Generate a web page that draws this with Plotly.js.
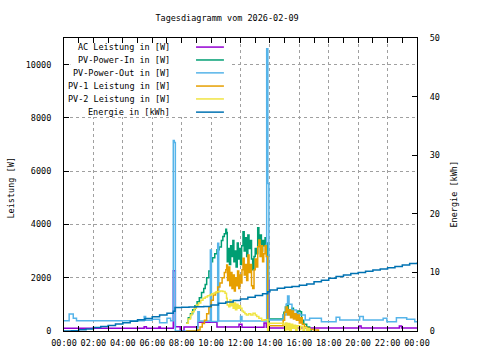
<!DOCTYPE html>
<html>
<head>
<meta charset="utf-8">
<script src="https://cdn.plot.ly/plotly-3.0.1.min.js"></script>
<style>html,body{margin:0;padding:0;background:#fff;}#chart{width:480px;height:360px;}</style>
</head>
<body>
<div id="chart"></div>
<script>
// ---- data (hours of day, values) ----
const titleText = "Tagesdiagramm vom 2026-02-09";
const seriesNames = ["AC Leistung in [W]", "PV-Power-In in [W]", "PV-Power-Out in [W]", "PV-1 Leistung in [W]", "PV-2 Leistung in [W]", "Energie in [kWh]"];
const seriesColors = ["#9400d3", "#009e73", "#56b4e9", "#e69f00", "#f0e442", "#0072b2"];
const xTickVals = [0, 2, 4, 6, 8, 10, 12, 14, 16, 18, 20, 22, 24];
const xTickText = ["00:00", "02:00", "04:00", "06:00", "08:00", "10:00", "12:00", "14:00", "16:00", "18:00", "20:00", "22:00", "00:00"];
const yTickVals = [0, 2000, 4000, 6000, 8000, 10000];
const yTickText = ["0", "2000", "4000", "6000", "8000", "10000"];
const y2TickVals = [0, 10, 20, 30, 40, 50];

const acT = [0, 5.45, 5.6, 6.45, 6.55, 7.43, 7.57, 7.9, 8.16, 9.1, 10.4, 11.9, 12.1, 13.6, 13.75, 13.85, 13.95, 15.1, 15.3, 20.05, 20.2, 22.8, 22.95, 24];
const acW = [100, 160, 100, 150, 100, 2260, 160, 0, 150, 330, 150, 250, 140, 300, 140, 1900, 110, 180, 110, 190, 110, 190, 110, 110];

const inT = [8.3, 8.45, 8.6, 8.75, 8.9, 9.05, 9.2, 9.35, 9.5, 9.6, 9.7, 9.85, 10.0, 10.1, 10.25, 10.4, 10.55, 10.7, 10.8, 10.9, 11.0, 11.05, 11.1, 11.17, 11.25, 11.33, 11.4, 11.48, 11.55, 11.62, 11.7, 11.78, 11.85, 11.93, 12.0, 12.08, 12.17, 12.25, 12.33, 12.42, 12.5, 12.58, 12.67, 12.75, 12.83, 12.92, 13.0, 13.08, 13.17, 13.25, 13.33, 13.42, 13.5, 13.58, 13.67, 13.75, 13.85, 13.95, 14.9, 14.95, 15.05, 15.15, 15.25, 15.35, 15.5, 15.6, 15.75, 15.9, 16.05, 16.15, 16.3, 16.5, 16.7, 16.8];
const inW = [300, 500, 650, 800, 950, 1100, 1250, 1450, 1600, 1750, 2000, 2250, 2600, 2750, 2900, 3050, 3150, 3400, 3550, 3650, 3820, 3700, 2600, 3100, 2500, 3200, 2800, 3400, 2600, 3000, 2400, 3300, 2700, 3100, 2500, 3200, 3730, 3000, 3500, 2800, 3600, 3100, 3400, 2700, 2300, 2800, 3100, 2900, 3880, 3300, 3600, 3000, 3400, 3200, 3500, 3300, 0, 450, 600, 700, 900, 1000, 800, 650, 850, 600, 500, 750, 725, 400, 250, 150, 50, 0];

const outT = [0, 0.35, 0.63, 0.85, 5.45, 5.55, 6.0, 6.5, 7.0, 7.25, 7.43, 7.5, 7.57, 9.1, 9.2, 9.95, 10.02, 10.45, 10.52, 12.0, 12.1, 13.78, 13.86, 13.93, 14.9, 15.1, 15.2, 15.3, 15.5, 15.8, 16.05, 16.4, 16.7, 17.5, 18.5, 18.75, 20.1, 20.35, 21.7, 21.95, 22.6, 23.3, 23.85, 24];
const outW = [385, 640, 475, 385, 540, 400, 440, 310, 475, 385, 7150, 7080, 0, 720, 380, 3040, 360, 3290, 380, 540, 380, 10600, 5540, 410, 600, 1000, 1310, 1000, 790, 650, 600, 410, 475, 350, 515, 410, 540, 410, 475, 350, 500, 440, 350, 350];

const pv1T = [8.3, 9.1, 9.25, 9.4, 9.55, 9.7, 9.85, 10.0, 10.15, 10.3, 10.45, 10.6, 10.75, 10.9, 11.0, 11.06, 11.12, 11.2, 11.27, 11.35, 11.42, 11.5, 11.58, 11.65, 11.72, 11.8, 11.88, 11.95, 12.03, 12.1, 12.17, 12.25, 12.33, 12.42, 12.5, 12.58, 12.67, 12.75, 12.83, 12.92, 13.0, 13.08, 13.17, 13.25, 13.33, 13.42, 13.5, 13.58, 13.67, 13.75, 13.85, 13.95, 14.9, 15.0, 15.1, 15.2, 15.3, 15.4, 15.5, 15.6, 15.7, 15.8, 15.9, 16.0, 16.1, 16.2, 16.35, 16.5, 16.7, 17.0, 17.3];
const pv1W = [0, 40, 150, 280, 400, 650, 900, 1150, 1350, 1450, 1650, 1800, 2000, 2200, 2300, 2480, 1900, 2400, 1700, 2200, 1600, 2100, 1500, 2000, 1700, 2250, 1600, 2100, 1800, 2300, 2730, 2100, 2500, 1900, 2850, 2200, 2500, 1700, 1600, 2300, 2700, 2400, 3160, 3415, 2800, 3200, 2600, 2900, 3200, 2800, 0, 200, 400, 700, 900, 600, 800, 500, 750, 450, 650, 400, 600, 300, 500, 250, 150, 100, 60, 40, 0];

const pv2T = [8.3, 8.45, 8.6, 8.7, 8.85, 9.0, 9.15, 9.3, 9.45, 9.6, 9.75, 9.9, 10.05, 10.2, 10.35, 10.5, 10.65, 10.8, 10.95, 11.05, 11.1, 11.2, 11.28, 11.35, 11.42, 11.5, 11.58, 11.66, 11.75, 11.83, 11.92, 12.0, 12.1, 12.2, 12.3, 12.4, 12.55, 12.7, 12.85, 13.0, 13.1, 13.25, 13.44, 13.6, 13.85, 13.95, 14.9, 15.0, 15.05, 15.15, 15.25, 15.35, 15.45, 15.55, 15.65, 15.75, 15.85, 16.0, 16.1, 16.25, 16.35, 16.5, 16.6, 16.7];
const pv2W = [290, 450, 600, 725, 850, 975, 1050, 1150, 1225, 1280, 1320, 1350, 1400, 1430, 1475, 1480, 1500, 1480, 1415, 1230, 975, 910, 1165, 950, 1100, 850, 1050, 800, 1000, 850, 950, 850, 750, 700, 650, 600, 650, 600, 665, 600, 540, 480, 400, 420, 0, 290, 250, 0, 300, 50, 280, 0, 250, 100, 220, 0, 200, 60, 180, 0, 120, 0, 80, 0];

const enT = [0, 0.5, 1.0, 1.5, 2.0, 2.5, 3.0, 3.5, 4.0, 4.5, 5.0, 5.5, 6.0, 6.5, 7.0, 7.43, 7.55, 8.0, 8.5, 9.0, 9.5, 10.0, 10.5, 11.0, 11.5, 12.0, 12.5, 13.0, 13.5, 13.85, 14.0, 14.5, 15.0, 15.5, 16.0, 16.5, 17.0, 17.5, 18.0, 18.5, 19.0, 19.5, 20.0, 20.5, 21.0, 21.5, 22.0, 22.5, 23.0, 23.5, 24.0];
const enKWh = [0.0, 0.05, 0.2, 0.35, 0.6, 0.75, 0.95, 1.2, 1.4, 1.65, 1.9, 2.15, 2.45, 2.75, 3.05, 3.35, 4.0, 4.05, 4.08, 4.12, 4.2, 4.45, 4.75, 4.95, 5.2, 5.45, 5.75, 6.05, 6.35, 6.7, 7.0, 7.3, 7.45, 7.6, 7.8, 8.0, 8.4, 8.65, 9.0, 9.3, 9.55, 9.8, 10.0, 10.2, 10.4, 10.6, 10.8, 11.0, 11.25, 11.5, 11.7];

// ---- chart ----
const FONT = "DejaVu Sans Mono";
const xs = [acT, inT, outT, pv1T, pv2T, enT];
const ys = [acW, inW, outW, pv1W, pv2W, enKWh];
const traces = xs.map((x, i) => ({
  x: x, y: ys[i], name: seriesNames[i], type: "scatter", mode: "lines",
  line: {color: seriesColors[i], width: 1.5, shape: "hv"},
  yaxis: i === 5 ? "y2" : "y", showlegend: false, hoverinfo: "skip"
}));

const legendY = [0.969, 0.925, 0.881, 0.836, 0.792, 0.747];
const annotations = seriesNames.map((n, i) => ({
  text: n, xref: "paper", yref: "paper", x: 0.306, y: legendY[i],
  xanchor: "right", yanchor: "middle", showarrow: false,
  font: {family: FONT, size: 8.5, color: "#000"}
}));
// opaque key area (blanks grid lines behind the key, as in the reference)
const shapes = [{type: "rect", xref: "x domain", yref: "y domain", x0: 0.018, x1: 0.47, y0: 0.73, y1: 0.98,
  line: {width: 0}, fillcolor: "#fff", layer: "above"}];
seriesColors.forEach((c, i) => shapes.push({
  type: "line", xref: "paper", yref: "paper", x0: 0.374, x1: 0.453,
  y0: legendY[i], y1: legendY[i], line: {color: c, width: 1.5}, layer: "above"
}));
annotations.push({text: "Leistung [W]", xref: "paper", yref: "paper", x: 0, y: 0.5, xshift: -54, yshift: -4,
  textangle: -90, showarrow: false, xanchor: "center", yanchor: "middle", font: {family: FONT, size: 8.5, color: "#000"}});
annotations.push({text: "Energie [kWh]", xref: "paper", yref: "paper", x: 1, y: 0.5, xshift: 36, yshift: -10,
  textangle: -90, showarrow: false, xanchor: "center", yanchor: "middle", font: {family: FONT, size: 8.5, color: "#000"}});

const layout = {
  width: 480, height: 360,
  margin: {l: 64, r: 63, t: 38, b: 29, pad: 0},
  paper_bgcolor: "#fff", plot_bgcolor: "#fff",
  font: {family: FONT, size: 8.5, color: "#000"},
  title: {text: titleText, x: 0.473, xref: "container", xanchor: "center", y: 1 - 18/360, yref: "container", yanchor: "middle",
    font: {family: FONT, size: 8.5, color: "#000"}},
  xaxis: {range: [0, 24], tickvals: xTickVals, ticktext: xTickText, ticks: "inside", ticklen: 5, tickcolor: "#000",
    showline: true, linecolor: "#000", linewidth: 1, mirror: "allticks", zeroline: false,
    showgrid: true, gridcolor: "#a0a0a0", griddash: "3px,3px", gridwidth: 1, ticklabelstandoff: 4,
    minor: {dtick: 1, ticks: "inside", ticklen: 3, tickcolor: "#000", showgrid: false},
    tickfont: {family: FONT, size: 8.5, color: "#000"}},
  yaxis: {range: [0, 11000], tickvals: yTickVals, ticktext: yTickText, ticks: "inside", ticklen: 5, tickcolor: "#000",
    showline: true, linecolor: "#000", linewidth: 1, zeroline: false,
    showgrid: true, gridcolor: "#a0a0a0", griddash: "3px,3px", gridwidth: 1, ticklabelstandoff: 10,
    tickfont: {family: FONT, size: 8.5, color: "#000"}},
  yaxis2: {range: [0, 50], tickvals: y2TickVals, overlaying: "y", side: "right", ticks: "inside", ticklen: 5, tickcolor: "#000",
    showline: true, linecolor: "#000", linewidth: 1, zeroline: false, showgrid: false, ticklabelstandoff: 10,
    tickfont: {family: FONT, size: 8.5, color: "#000"}},
  annotations: annotations, shapes: shapes, showlegend: false
};
Plotly.newPlot("chart", traces, layout, {staticPlot: true, displayModeBar: false});
</script>
</body>
</html>
